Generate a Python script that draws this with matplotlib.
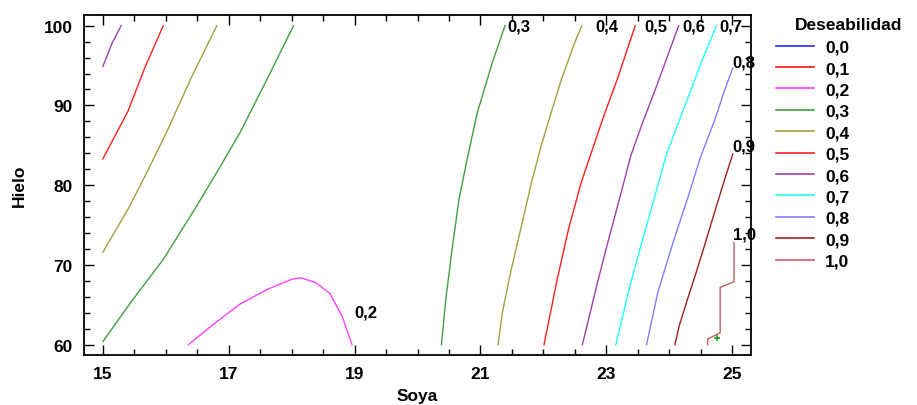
import matplotlib.pyplot as plt
from matplotlib.lines import Line2D

plt.rcParams['font.family'] = ['Liberation Sans', 'DejaVu Sans']
plt.rcParams['font.weight'] = 'bold'

# Deseabilidad levels and their colours (legend order)
levels = ['0,0', '0,1', '0,2', '0,3', '0,4', '0,5', '0,6', '0,7', '0,8', '0,9', '1,0']
colors = ['#2828ff', '#ff1010', '#ff40ff', '#40a040', '#a0a040', '#ff2020',
          '#a040a8', '#20ffff', '#8080ff', '#a02020', '#c06060']

# contour lines (Soya, Hielo)
soya_06_left = [15.0, 15.14, 15.29]
hielo_06_left = [94.9, 97.7, 100.0]

soya_05_left = [15.0, 15.40, 15.67, 15.96]
hielo_05_left = [83.3, 89.3, 94.8, 100.0]

soya_04_left = [15.0, 15.40, 15.70, 16.01, 16.40, 16.81]
hielo_04_left = [71.6, 77.0, 81.6, 86.6, 93.4, 100.0]

soya_03_left = [15.0, 15.48, 15.96, 16.46, 16.81, 17.18, 17.61, 18.03]
hielo_03_left = [60.4, 65.7, 70.7, 77.0, 81.6, 86.6, 93.3, 100.0]

soya_02 = [16.36, 16.73, 17.18, 17.63, 18.0, 18.14, 18.38, 18.61, 18.80, 18.96]
hielo_02 = [60.0, 62.4, 65.1, 67.0, 68.2, 68.4, 67.8, 66.4, 63.6, 60.0]

soya_03 = [20.38, 20.45, 20.55, 20.66, 20.79, 20.95, 21.19, 21.39]
hielo_03 = [60.0, 65.7, 72.0, 78.3, 83.3, 89.1, 95.4, 100.0]

soya_04 = [21.28, 21.35, 21.48, 21.64, 21.81, 21.96, 22.12, 22.28, 22.49, 22.61]
hielo_04 = [60.0, 64.1, 69.1, 74.5, 80.3, 84.8, 89.0, 93.1, 97.7, 100.0]

soya_05 = [22.01, 22.22, 22.40, 22.60, 22.78, 22.97, 23.18, 23.46]
hielo_05 = [60.0, 68.2, 74.5, 80.3, 84.5, 88.9, 93.4, 100.0]

soya_06 = [22.62, 22.86, 23.03, 23.21, 23.39, 23.57, 23.76, 23.96, 24.15]
hielo_06 = [60.0, 67.8, 73.0, 78.3, 83.7, 87.7, 91.6, 95.9, 100.0]

soya_07 = [23.15, 23.39, 23.57, 23.76, 23.95, 24.12, 24.29, 24.51, 24.75]
hielo_07 = [60.0, 67.8, 73.0, 78.3, 83.7, 87.3, 90.8, 95.4, 100.0]

soya_08 = [23.64, 23.82, 24.08, 24.29, 24.50, 24.72, 24.88, 25.01]
hielo_08 = [60.0, 66.6, 73.3, 78.3, 83.6, 88.1, 91.9, 94.7]

soya_09 = [24.09, 24.16, 24.29, 24.43, 24.56, 24.72, 24.88, 25.01]
hielo_09 = [60.0, 62.4, 65.7, 69.1, 72.4, 76.6, 80.7, 83.9]

soya_10 = [24.61, 24.61, 24.81, 24.81, 25.03, 25.03]
hielo_10 = [60.0, 60.7, 61.5, 67.2, 67.9, 72.8]

optimum = (24.76, 60.9)

# label text and where it sits
label_text = ['0,2', '0,3', '0,4', '0,5', '0,6', '0,7', '0,8', '0,9', '1,0']
label_x = [18.99, 21.43, 22.82, 23.61, 24.21, 24.80, 25.01, 25.01, 25.01]
label_y = [64.1, 100.0, 100.0, 100.0, 100.0, 100.0, 95.4, 84.95, 73.9]

fig = plt.figure(figsize=(9.17, 4.06), dpi=100)
ax = fig.add_axes([0.0916, 0.1239, 0.7274, 0.8367])

lines = [
    (soya_06_left, hielo_06_left, 6), (soya_05_left, hielo_05_left, 5),
    (soya_04_left, hielo_04_left, 4), (soya_03_left, hielo_03_left, 3),
    (soya_02, hielo_02, 2), (soya_03, hielo_03, 3), (soya_04, hielo_04, 4),
    (soya_05, hielo_05, 5), (soya_06, hielo_06, 6), (soya_07, hielo_07, 7),
    (soya_08, hielo_08, 8), (soya_09, hielo_09, 9), (soya_10, hielo_10, 10),
]
for xs, ys, k in lines:
    ax.plot(xs, ys, color=colors[k], lw=1.0)

ax.plot(*optimum, marker='+', color='#20a020', ms=5, mew=1.2)

for t, x, y in zip(label_text, label_x, label_y):
    ax.text(x, y, t, ha='left', va='center', fontsize=12, fontweight='bold')

ax.set_xlim(14.70, 25.30)
ax.set_ylim(58.75, 101.34)
ax.set_xticks([15, 17, 19, 21, 23, 25])
ax.set_xticks([x / 2 for x in range(30, 51)], minor=True)
ax.set_yticks([60, 70, 80, 90, 100])
ax.set_yticks(list(range(60, 101, 2)), minor=True)
ax.tick_params(which='both', direction='in', top=True, right=True, width=1.0,
               labelsize=12.5)
ax.tick_params(which='major', length=7, pad=8)
ax.tick_params(which='minor', length=4)
for sp in ax.spines.values():
    sp.set_linewidth(1.3)

ax.set_xlabel('Soya', fontsize=12.5, fontweight='bold', labelpad=5)
ax.set_ylabel('Hielo', fontsize=12.5, fontweight='bold', labelpad=12)

# legend
fig.text(795 / 917, 1 - 26 / 406, 'Deseabilidad', ha='left', va='center',
         fontsize=12.5, fontweight='bold')
handles = [Line2D([], [], color=c, lw=1.2) for c in colors]
fig.legend(handles, levels, loc='upper left', bbox_to_anchor=(776 / 917, 1 - 40.5 / 406),
           frameon=False, fontsize=12.5, handlelength=2.19, handletextpad=0.63,
           labelspacing=0.36, borderpad=0, borderaxespad=0)

fig.savefig('out.png', dpi=100)
